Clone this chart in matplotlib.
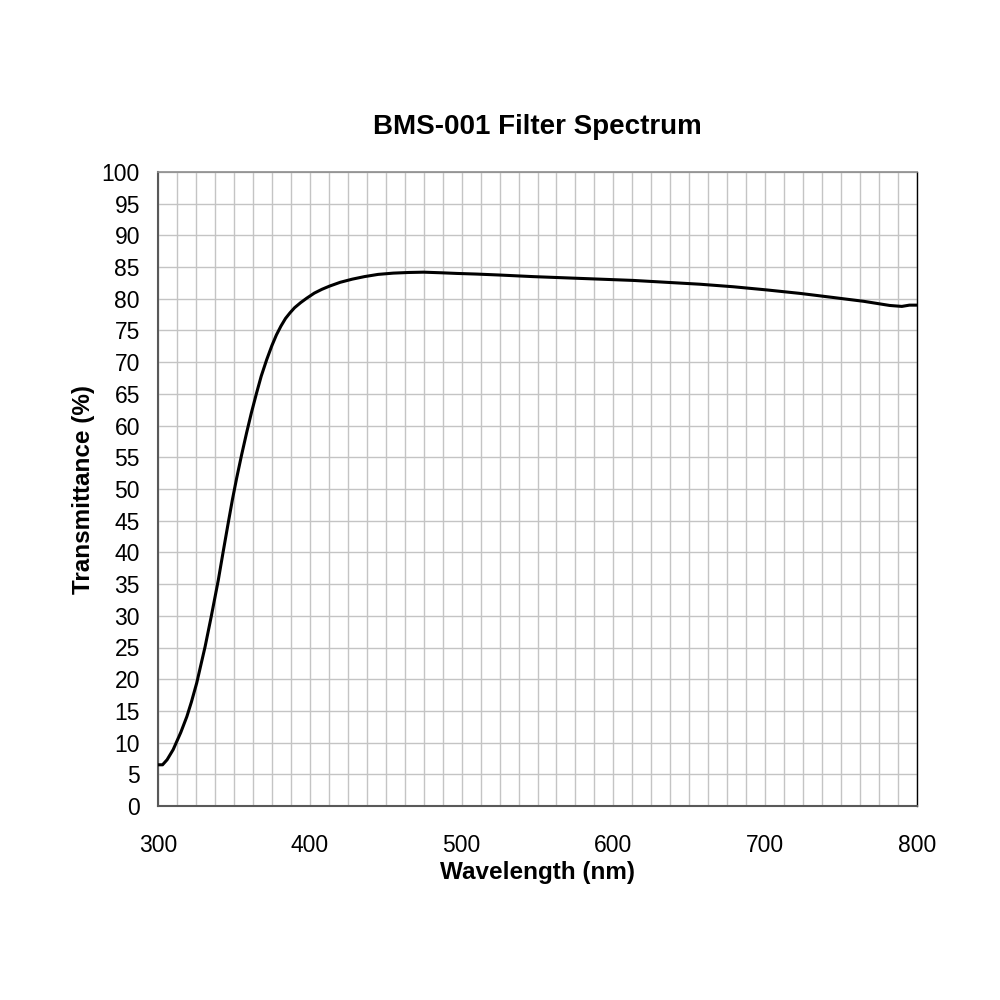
import matplotlib
matplotlib.use('Agg')
import matplotlib.pyplot as plt
import numpy as np

plt.rcParams['font.family'] = ['Liberation Sans', 'DejaVu Sans']

# valores
longitud = [300, 303, 306, 310, 315, 319, 322, 325.5, 328, 331, 335, 339.7, 343,
            346.3, 349, 351.8, 355, 358.4, 361.5, 365, 368, 371.6, 375, 378, 381,
            384, 387, 390, 394, 398, 403, 408, 413, 420, 428, 436, 445, 455, 465,
            475, 487, 497, 510, 525, 547, 569, 591, 613, 635, 657, 679, 701, 723,
            745, 765, 782, 790, 795, 800]
transmitancia = [6.5, 6.5, 7.3, 8.9, 11.6, 14.1, 16.4, 19.4, 22.0, 25.1, 29.8, 35.6, 40.2,
                 44.7, 48.3, 51.7, 55.3, 58.9, 62.0, 65.2, 67.8, 70.4, 72.6, 74.3, 75.7,
                 76.9, 77.8, 78.6, 79.4, 80.1, 80.9, 81.5, 82.0, 82.6, 83.1, 83.5, 83.85, 84.05, 84.15,
                 84.2, 84.1, 84.0, 83.9, 83.75, 83.5, 83.3, 83.1, 82.9, 82.6, 82.3, 81.9, 81.4, 80.85,
                 80.2, 79.6, 78.95, 78.8, 79.0, 79.0]

fig = plt.figure(figsize=(10, 10), dpi=100)
ax = fig.add_axes([0.158, 0.194, 0.759, 0.634])

ax.plot(longitud, transmitancia, color='black', linewidth=2.2, zorder=3)

ax.set_xlim(300, 800)
ax.set_ylim(0, 100)
ax.set_xticks(np.arange(300, 801, 100))
ax.set_xticks(np.arange(300, 801, 12.5), minor=True)
ax.set_yticks(np.arange(0, 101, 5))

ax.grid(True, which='both', axis='x', color='#c4c4c4', linewidth=1.0, zorder=0)
ax.grid(True, which='major', axis='y', color='#c4c4c4', linewidth=1.0, zorder=0)
ax.set_axisbelow(True)

ax.tick_params(axis='both', which='both', length=0, labelsize=16.5, colors='black')
ax.tick_params(axis='x', pad=20)
ax.tick_params(axis='y', pad=13)

ax.spines['left'].set_color('#595959')
ax.spines['left'].set_linewidth(1.5)
ax.spines['bottom'].set_color('#595959')
ax.spines['bottom'].set_linewidth(1.5)
ax.spines['top'].set_color('#8c8c8c')
ax.spines['top'].set_linewidth(1.2)
ax.spines['right'].set_color('black')
ax.spines['right'].set_linewidth(1.0)

ax.set_title('BMS-001 Filter Spectrum', fontsize=20, fontweight='bold', pad=27)
ax.set_xlabel('Wavelength (nm)', fontsize=17.5, fontweight='bold', labelpad=3)
ax.set_ylabel('Transmittance (%)', fontsize=17.5, fontweight='bold', labelpad=5)

fig.savefig('out.png', dpi=100, facecolor='white')
